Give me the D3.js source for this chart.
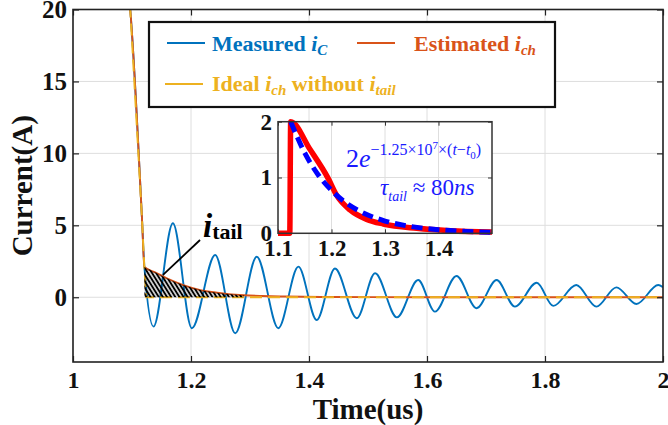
<!DOCTYPE html>
<html><head><meta charset="utf-8">
<script src="https://cdn.jsdelivr.net/npm/d3@7"></script>
<style>
body{margin:0;background:#fff}
svg{display:block}
text{font-family:"Liberation Serif","Times New Roman",serif}
</style>
</head><body>
<svg id="c" width="668" height="425"></svg>
<script>
// ---------------- data ----------------
const xTicks = [1, 1.2, 1.4, 1.6, 1.8, 2];
const yTicks = [0, 5, 10, 15, 20];

const measuredT = [1.085, 1.097, 1.117, 1.121, 1.1365, 1.1693, 1.2015, 1.241, 1.275, 1.3115, 1.348, 1.382, 1.413, 1.444, 1.481, 1.512, 1.549, 1.585, 1.6134, 1.650, 1.684, 1.718, 1.749, 1.786, 1.814, 1.853, 1.887, 1.921, 1.955, 1.992, 2.0];
const measuredV = [24, 20, 5.4, 2.1, -2.04, 5.14, -2.15, 2.94, -2.5, 2.82, -2.15, 2.13, -1.58, 2.0, -1.46, 1.67, -1.4, 1.2, -1.0, 1.48, -0.76, 1.2, -0.65, 1.01, -0.6, 0.85, -0.65, 0.69, -0.47, 0.85, 0.7];

const estimatedT = [1.085, 1.097, 1.117, 1.121, 1.14, 1.159, 1.187, 1.216, 1.244, 1.264, 1.29, 1.32, 1.36, 1.42, 1.5, 1.7, 2.0];
const estimatedV = [24, 20, 5.4, 2.1, 1.72, 1.32, 0.85, 0.5, 0.32, 0.22, 0.14, 0.09, 0.05, 0.02, 0.01, 0, 0];

const idealT = [1.085, 1.097, 1.117, 1.121, 1.124, 2.0];
const idealV = [24, 20, 5.4, 2.1, 0, 0];

const tailStart = 1.121, tailEnd = 1.29;

// inset
const insetXTicks = [1.1, 1.2, 1.3, 1.4];
const insetYTicks = [0, 1, 2];
const insetRedT = [1.1, 1.122, 1.1237, 1.16, 1.194, 1.2097, 1.2346, 1.2658, 1.2968, 1.3593, 1.4215, 1.5];
const insetRedV = [0, 0, 2.0, 1.5, 0.98, 0.68, 0.42, 0.25, 0.167, 0.09, 0.047, 0.022];
const insetFitT = [1.1237, 1.15, 1.175, 1.2, 1.225, 1.25, 1.3, 1.35, 1.4, 1.45, 1.5];
const insetFitV = [2.0, 1.44, 1.05, 0.77, 0.56, 0.41, 0.22, 0.12, 0.063, 0.034, 0.018];

const legendItems = [
  {main: "Measured ", i: "i", sub: "C", color: "#0072BD"},
  {main: "Estimated ", i: "i", sub: "ch", color: "#D95319"},
  {main: "Ideal ", i: "i", sub: "ch", extra: " without ", i2: "i", sub2: "tail", color: "#EDB120"}
];

// ---------------- chart ----------------
const svg = d3.select("#c");
const L = 73, R = 663, T = 9.5, B = 362;
const x = d3.scaleLinear().domain([1, 2]).range([L, R]);
const y = d3.scaleLinear().domain([-4.5, 20]).range([B, T]);

const defs = svg.append("defs");
defs.append("clipPath").attr("id", "clip")
  .append("rect").attr("x", L).attr("y", T).attr("width", R - L).attr("height", B - T);

// grid
const grid = svg.append("g").attr("stroke", "#dedede").attr("stroke-width", 1);
xTicks.forEach(t => grid.append("line").attr("x1", x(t)).attr("x2", x(t)).attr("y1", T).attr("y2", B));
yTicks.forEach(v => grid.append("line").attr("x1", L).attr("x2", R).attr("y1", y(v)).attr("y2", y(v)));

const plot = svg.append("g").attr("clip-path", "url(#clip)");

const zip = (a, b) => a.map((t, i) => [t, b[i]]);
const lineM = d3.line().x(d => x(d[0])).y(d => y(d[1])).curve(d3.curveMonotoneX);
const lineL = d3.line().x(d => x(d[0])).y(d => y(d[1]));

plot.append("path").attr("d", lineM(zip(measuredT, measuredV)))
  .attr("fill", "none").attr("stroke", "#0072BD").attr("stroke-width", 1.9);

// hatch pattern
const pat = defs.append("pattern").attr("id", "hatch")
  .attr("patternUnits", "userSpaceOnUse").attr("width", 3.5).attr("height", 10)
  .attr("patternTransform", "rotate(-32)");
pat.append("line").attr("x1", 1.75).attr("x2", 1.75).attr("y1", 0).attr("y2", 10)
  .attr("stroke", "#000").attr("stroke-width", 2.1);

const estPts = zip(estimatedT, estimatedV);
const tailPts = estPts.filter(d => d[0] >= tailStart && d[0] <= tailEnd);

plot.append("path").attr("d", lineM(estPts))
  .attr("fill", "none").attr("stroke", "#D95319").attr("stroke-width", 1.9);
plot.append("path").attr("d", lineL(zip(idealT, idealV)))
  .attr("fill", "none").attr("stroke", "#EDB120").attr("stroke-width", 1.9)
  .attr("stroke-dasharray", "12,6");
plot.append("path")
  .attr("d", d3.area().x(d => x(d[0])).y0(y(0)).y1(d => y(d[1])).curve(d3.curveMonotoneX)(tailPts))
  .attr("fill", "url(#hatch)");

// axes
const fmt = d => String(d);
const gx = svg.append("g").attr("transform", `translate(0,${B})`)
  .call(d3.axisBottom(x).tickValues(xTicks).tickFormat(fmt).tickSizeInner(-6).tickSizeOuter(0).tickPadding(9));
const gxt = svg.append("g").attr("transform", `translate(0,${T})`)
  .call(d3.axisTop(x).tickValues(xTicks).tickFormat("").tickSizeInner(-6).tickSizeOuter(0));
const gy = svg.append("g").attr("transform", `translate(${L},0)`)
  .call(d3.axisLeft(y).tickValues(yTicks).tickFormat(fmt).tickSizeInner(-6).tickSizeOuter(0).tickPadding(6));
const gyr = svg.append("g").attr("transform", `translate(${R},0)`)
  .call(d3.axisRight(y).tickValues(yTicks).tickFormat("").tickSizeInner(-6).tickSizeOuter(0));
[gx, gxt, gy, gyr].forEach(g => {
  g.select(".domain").remove();
  g.selectAll(".tick line").attr("stroke", "#222").attr("stroke-width", 1.2);
  g.selectAll("text").attr("font-size", 24).attr("font-weight", "bold").attr("fill", "#111")
    .attr("font-family", "Liberation Serif, serif");
});
gy.selectAll("text").attr("font-size", 25);
gx.selectAll(".tick").filter(d => d === 2).select("text").attr("text-anchor", "end").attr("dx", 6);
svg.append("rect").attr("x", L).attr("y", T).attr("width", R - L).attr("height", B - T)
  .attr("fill", "none").attr("stroke", "#222").attr("stroke-width", 1.6);

svg.append("text").attr("x", (L + R) / 2).attr("y", 419).attr("text-anchor", "middle")
  .attr("font-size", 29).attr("font-weight", "bold").attr("fill", "#111").text("Time(us)");
svg.append("text").attr("transform", `translate(32,${(T + B) / 2}) rotate(-90)`).attr("text-anchor", "middle")
  .attr("font-size", 29).attr("font-weight", "bold").attr("fill", "#111").text("Current(A)");

// i_tail annotation
const ann = {tx: 1.2203, tv: 4.19, fromT: 1.2153, fromV: 3.98, toT: 1.1525, toV: 1.55};
svg.append("line").attr("x1", x(ann.fromT)).attr("y1", y(ann.fromV)).attr("x2", x(ann.toT)).attr("y2", y(ann.toV))
  .attr("stroke", "#000").attr("stroke-width", 1.8);
const at = svg.append("text").attr("x", x(ann.tx)).attr("y", y(ann.tv)).attr("font-weight", "bold").attr("fill", "#000");
at.append("tspan").attr("font-size", 33).attr("font-style", "italic").text("i");
at.append("tspan").attr("font-size", 22).attr("dy", 2).text("tail");

// legend
const lg = svg.append("g");
lg.append("rect").attr("x", 149).attr("y", 22).attr("width", 406).attr("height", 85)
  .attr("fill", "#fff").attr("stroke", "#111").attr("stroke-width", 2.2);
const legPos = [{lx: 167, ly: 43, tx: 212, ty: 51}, {lx: 357, ly: 43, tx: 414, ty: 51}, {lx: 165, ly: 84, tx: 212, ty: 91}];
legendItems.forEach((it, k) => {
  const p = legPos[k];
  lg.append("line").attr("x1", p.lx).attr("x2", p.lx + 38).attr("y1", p.ly).attr("y2", p.ly)
    .attr("stroke", it.color).attr("stroke-width", 2);
  const t = lg.append("text").attr("x", p.tx).attr("y", p.ty).attr("font-size", 22)
    .attr("font-weight", "bold").attr("fill", it.color);
  t.append("tspan").text(it.main);
  t.append("tspan").attr("font-style", "italic").text(it.i);
  t.append("tspan").attr("font-style", "italic").attr("font-size", 15).attr("dy", 4).text(it.sub);
  if (it.extra) {
    t.append("tspan").attr("dy", -4).text(it.extra);
    t.append("tspan").attr("font-style", "italic").text(it.i2);
    t.append("tspan").attr("font-style", "italic").attr("font-size", 15).attr("dy", 4).text(it.sub2);
  }
});

// ---------------- inset ----------------
const IL = 278, IR = 492, IT = 121.7, IB = 233.3;
const xi = d3.scaleLinear().domain([1.1, 1.5]).range([IL, IR]);
const yi = d3.scaleLinear().domain([0, 2]).range([IB, IT]);
const ins = svg.append("g");
ins.append("rect").attr("x", IL).attr("y", IT).attr("width", IR - IL).attr("height", IB - IT).attr("fill", "#fff");
defs.append("clipPath").attr("id", "iclip")
  .append("rect").attr("x", IL - 4).attr("y", IT - 4).attr("width", IR - IL + 8).attr("height", IB - IT + 8);
const ig = ins.append("g").attr("stroke", "#dedede").attr("stroke-width", 1);
insetXTicks.forEach(t => ig.append("line").attr("x1", xi(t)).attr("x2", xi(t)).attr("y1", IT).attr("y2", IB));
insetYTicks.forEach(v => ig.append("line").attr("x1", IL).attr("x2", IR).attr("y1", yi(v)).attr("y2", yi(v)));

const ix = ins.append("g").attr("transform", `translate(0,${IB})`)
  .call(d3.axisBottom(xi).tickValues(insetXTicks).tickFormat(fmt).tickSizeInner(-4).tickSizeOuter(0).tickPadding(6));
const ixt = ins.append("g").attr("transform", `translate(0,${IT})`)
  .call(d3.axisTop(xi).tickValues(insetXTicks).tickFormat("").tickSizeInner(-4).tickSizeOuter(0));
const iy = ins.append("g").attr("transform", `translate(${IL},0)`)
  .call(d3.axisLeft(yi).tickValues(insetYTicks).tickFormat(fmt).tickSizeInner(-4).tickSizeOuter(0).tickPadding(6));
const iyr = ins.append("g").attr("transform", `translate(${IR},0)`)
  .call(d3.axisRight(yi).tickValues(insetYTicks).tickFormat("").tickSizeInner(-4).tickSizeOuter(0));
[ix, ixt, iy, iyr].forEach(g => {
  g.select(".domain").remove();
  g.selectAll(".tick line").attr("stroke", "#333").attr("stroke-width", 1);
  g.selectAll("text").attr("font-size", 23).attr("font-weight", "bold").attr("fill", "#111")
    .attr("font-family", "Liberation Serif, serif");
});

const lineI = d3.line().x(d => xi(d[0])).y(d => yi(d[1])).curve(d3.curveMonotoneX);
const ip = ins.append("g").attr("clip-path", "url(#iclip)");
ip.append("path").attr("d", lineI(zip(insetRedT, insetRedV)))
  .attr("fill", "none").attr("stroke", "#ff0000").attr("stroke-width", 5.5);
ip.append("path").attr("d", lineI(zip(insetFitT, insetFitV)))
  .attr("fill", "none").attr("stroke", "#0000ff").attr("stroke-width", 5).attr("stroke-dasharray", "11,6");
ins.append("rect").attr("x", IL).attr("y", IT).attr("width", IR - IL).attr("height", IB - IT)
  .attr("fill", "none").attr("stroke", "#333").attr("stroke-width", 1.5);

// equation text
const eq = {t: 1.227, v: 1.19};
const et = ins.append("text").attr("x", xi(eq.t)).attr("y", yi(eq.v)).attr("font-size", 26).attr("fill", "#1a1aff");
et.append("tspan").text("2");
et.append("tspan").attr("font-style", "italic").text("e");
et.append("tspan").attr("font-size", 16).attr("dy", -12).text("\u22121.25\u00d710");
et.append("tspan").attr("font-size", 11).attr("dy", -6).text("7");
et.append("tspan").attr("font-size", 16).attr("dy", 6).text("\u00d7(");
et.append("tspan").attr("font-size", 16).attr("font-style", "italic").text("t");
et.append("tspan").attr("font-size", 16).text("\u2212");
et.append("tspan").attr("font-size", 16).attr("font-style", "italic").text("t");
et.append("tspan").attr("font-size", 11).attr("dy", 4).text("0");
et.append("tspan").attr("font-size", 16).attr("dy", -4).text(")");

const tau = {t: 1.2907, v: 0.686};
const tt = ins.append("text").attr("x", xi(tau.t)).attr("y", yi(tau.v)).attr("font-size", 23).attr("fill", "#1a1aff");
tt.append("tspan").attr("font-style", "italic").text("\u03c4");
tt.append("tspan").attr("font-style", "italic").attr("font-size", 14).attr("dy", 6).text("tail");
tt.append("tspan").attr("dy", -6).text(" \u2248 80");
tt.append("tspan").attr("font-style", "italic").text("ns");
</script>
</body></html>
